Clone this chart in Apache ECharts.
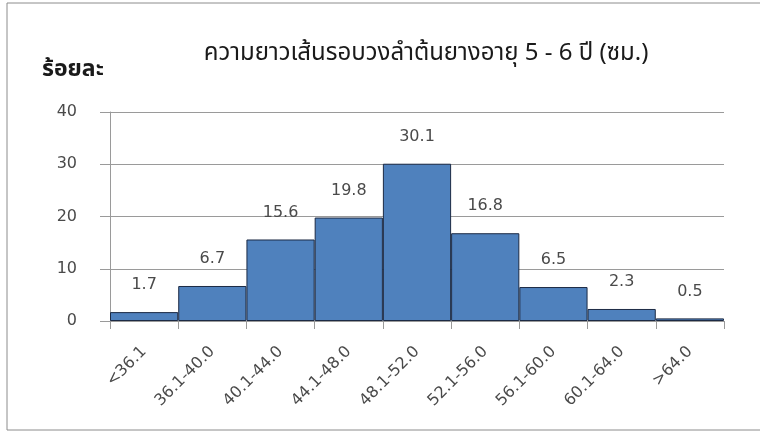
<!DOCTYPE html>
<html>
<head>
<meta charset="utf-8">
<script src="https://cdn.jsdelivr.net/npm/echarts@6/dist/echarts.min.js"></script>
<style>
  html, body { margin: 0; padding: 0; background: #fff; }
  #chart { width: 760px; height: 432px; }
</style>
</head>
<body>
<div id="chart"></div>
<script>
// Girth class intervals (cm) and share of trees in each class (%)
const categories = ['<36.1', '36.1-40.0', '40.1-44.0', '44.1-48.0', '48.1-52.0', '52.1-56.0', '56.1-60.0', '60.1-64.0', '>64.0'];
const percentages = [1.7, 6.7, 15.6, 19.8, 30.1, 16.8, 6.5, 2.3, 0.5];
const yTicks = { min: 0, max: 40, interval: 10 };

const titleText = 'ความยาวเส้นรอบวงลำต้นยางอายุ 5 - 6 ปี (ซม.)';
const yName = 'ร้อยละ';

const textFont = '"DejaVu Sans", Verdana, sans-serif';
const thaiFont = '"Noto Sans Thai", "Noto Sans", "Liberation Sans", sans-serif';

const chart = echarts.init(document.getElementById('chart'), null, { renderer: 'canvas' });

chart.setOption({
  backgroundColor: '#ffffff',
  animation: false,
  graphic: [
    {
      type: 'rect',
      shape: { x: 7, y: 3, width: 770, height: 427 },
      style: { fill: 'none', stroke: '#8c8c8c', lineWidth: 1 },
      silent: true
    },
    {
      type: 'text',
      left: 42,
      top: 60,
      style: { text: yName, fontFamily: thaiFont, fontSize: 23, fontWeight: 'bold', fill: '#1a1a1a' }
    }
  ],
  title: {
    text: titleText,
    left: 421,
    top: 38,
    textAlign: 'center',
    textStyle: { fontFamily: thaiFont, fontSize: 24, fontWeight: 'normal', color: '#1a1a1a' }
  },
  grid: { left: 110, right: 36, top: 112, bottom: 111, containLabel: false },
  xAxis: {
    type: 'category',
    data: categories,
    boundaryGap: true,
    axisLine: { show: true, lineStyle: { color: '#9a9a9a', width: 1 } },
    axisTick: { show: true, alignWithLabel: false, length: 8, lineStyle: { color: '#9a9a9a' } },
    axisLabel: {
      rotate: 45,
      margin: 28,
      interval: 0,
      fontFamily: textFont,
      fontSize: 16,
      color: '#4a4a4a'
    }
  },
  yAxis: {
    type: 'value',
    min: yTicks.min,
    max: yTicks.max,
    interval: yTicks.interval,
    axisLine: { show: true, lineStyle: { color: '#9a9a9a', width: 1 } },
    axisTick: { show: true, inside: false, length: 10, lineStyle: { color: '#9a9a9a' } },
    splitLine: { show: true, lineStyle: { color: '#9a9a9a', width: 1 } },
    axisLabel: {
      margin: 33,
      fontFamily: textFont,
      fontSize: 16,
      color: '#4a4a4a'
    }
  },
  series: [
    {
      type: 'bar',
      data: percentages,
      barCategoryGap: '0%',
      itemStyle: { color: '#4f81bd', borderColor: '#1c2a44', borderWidth: 1 },
      label: {
        show: true,
        position: 'top',
        distance: 19,
        fontFamily: textFont,
        fontSize: 16,
        color: '#4a4a4a',
        formatter: (p) => p.value.toFixed(1)
      }
    }
  ]
});
</script>
</body>
</html>
